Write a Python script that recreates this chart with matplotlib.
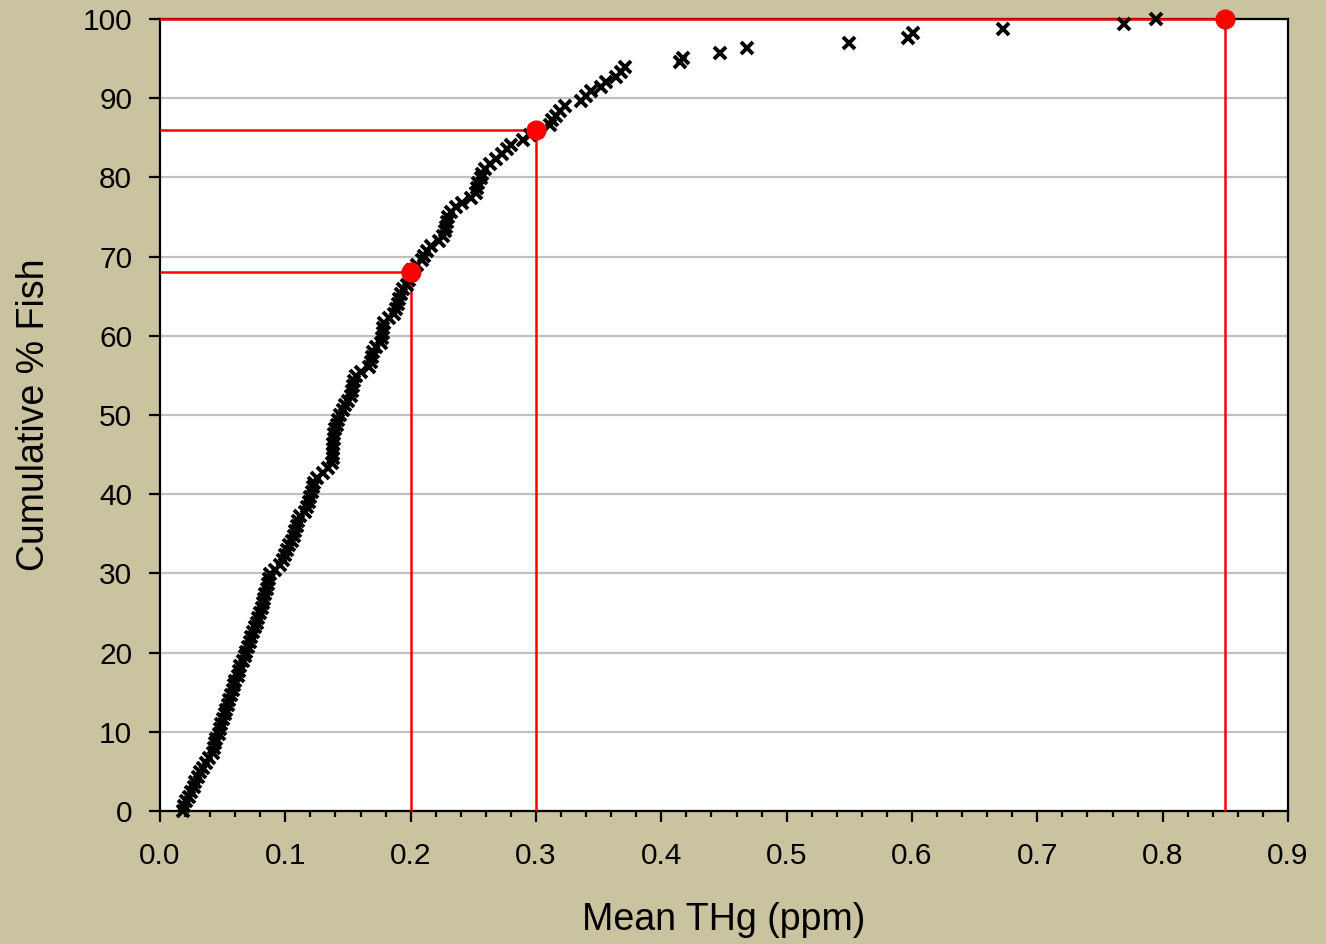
import numpy as np
import matplotlib
matplotlib.use("Agg")
import matplotlib.pyplot as plt
from matplotlib.ticker import MultipleLocator

plt.rcParams['font.family'] = ['Liberation Sans', 'DejaVu Sans']

# Mean total mercury per fish (ppm), sorted ascending
thg = [
    0.018, 0.019, 0.021, 0.023, 0.025, 0.027, 0.028, 0.030, 0.032, 0.034,
    0.037, 0.039, 0.042, 0.043, 0.044, 0.045, 0.047, 0.048, 0.049, 0.050,
    0.052, 0.053, 0.054, 0.055, 0.057, 0.058, 0.059, 0.060, 0.062, 0.063,
    0.064, 0.066, 0.068, 0.069, 0.070, 0.072, 0.073, 0.074, 0.076, 0.077,
    0.078, 0.080, 0.081, 0.082, 0.083, 0.084, 0.085, 0.086, 0.087, 0.088,
    0.092, 0.096, 0.098, 0.100, 0.101, 0.103, 0.105, 0.107, 0.108, 0.109,
    0.110, 0.112, 0.116, 0.117, 0.119, 0.120, 0.121, 0.122, 0.123, 0.125,
    0.130, 0.134, 0.137, 0.138, 0.138, 0.138, 0.138, 0.139, 0.139, 0.140,
    0.141, 0.142, 0.144, 0.146, 0.148, 0.150, 0.152, 0.153, 0.154, 0.155,
    0.156, 0.160, 0.167, 0.168, 0.169, 0.170, 0.172, 0.176, 0.177, 0.178,
    0.178, 0.179, 0.183, 0.187, 0.188, 0.190, 0.191, 0.192, 0.194, 0.197,
    0.199, 0.200, 0.201, 0.205, 0.209, 0.211, 0.213, 0.216, 0.223, 0.226,
    0.227, 0.228, 0.229, 0.230, 0.232, 0.236, 0.241, 0.248, 0.252, 0.253,
    0.254, 0.256, 0.257, 0.259, 0.263, 0.268, 0.273, 0.277, 0.280, 0.290,
    0.295, 0.299, 0.311, 0.313, 0.316, 0.319, 0.323, 0.336, 0.340, 0.344,
    0.352, 0.356, 0.364, 0.368, 0.371, 0.415, 0.417, 0.447, 0.468, 0.5495,
    0.597, 0.601, 0.673, 0.769, 0.795,
]

# Cumulative percentage of fish at or below each concentration
cum_pct = np.arange(len(thg)) / (len(thg) - 1) * 100

# Reference thresholds (ppm) and the cumulative % reached at each
ref_thg = [0.2, 0.3, 0.85]
ref_pct = [68, 86, 100]

x_ticks = [0.0, 0.1, 0.2, 0.3, 0.4, 0.5, 0.6, 0.7, 0.8, 0.9]
y_ticks = [0, 10, 20, 30, 40, 50, 60, 70, 80, 90, 100]

bg = '#C9C3A0'
fig = plt.figure(figsize=(13.26, 9.44), dpi=100, facecolor=bg)
ax = fig.add_axes([160 / 1326, 1 - 811 / 944, 1128 / 1326, 792 / 944])
ax.set_facecolor('white')

ax.set_xlim(0, 0.9)
ax.set_ylim(0, 100)
ax.set_xticks(x_ticks)
ax.set_xticklabels([f'{v:.1f}' for v in x_ticks])
ax.set_yticks(y_ticks)
ax.xaxis.set_minor_locator(MultipleLocator(0.02))

ax.grid(axis='y', color='#C0C0C0', linewidth=1.6, zorder=0)
ax.set_axisbelow(True)

for s in ax.spines.values():
    s.set_color('black')
    s.set_linewidth(1.6)

ax.tick_params(axis='both', which='major', direction='out', length=8, width=1.6,
               labelsize=21.5, colors='black', pad=12)
ax.tick_params(axis='x', which='major', pad=14)
ax.tick_params(axis='x', which='minor', direction='out', length=4.5, width=1.6)

# Threshold guide lines
for xv, yv in zip(ref_thg, ref_pct):
    ax.plot([0, xv], [yv, yv], color='#FF0000', linewidth=1.8, zorder=3,
            clip_on=False, solid_capstyle='butt')
    ax.plot([xv, xv], [0, yv], color='#FF0000', linewidth=1.8, zorder=3,
            clip_on=False, solid_capstyle='butt')

ax.plot(thg, cum_pct, linestyle='none', marker='x', markersize=8.5,
        markeredgewidth=2.8, color='black', zorder=4, clip_on=False)

ax.plot(ref_thg, ref_pct, linestyle='none', marker='o', markersize=13.5,
        color='#FF0000', zorder=5, clip_on=False)

ax.set_xlabel('Mean THg (ppm)', fontsize=27, labelpad=23)
ax.set_ylabel('Cumulative % Fish', fontsize=27, labelpad=22)

fig.savefig('out.png', dpi=100, facecolor=bg)
